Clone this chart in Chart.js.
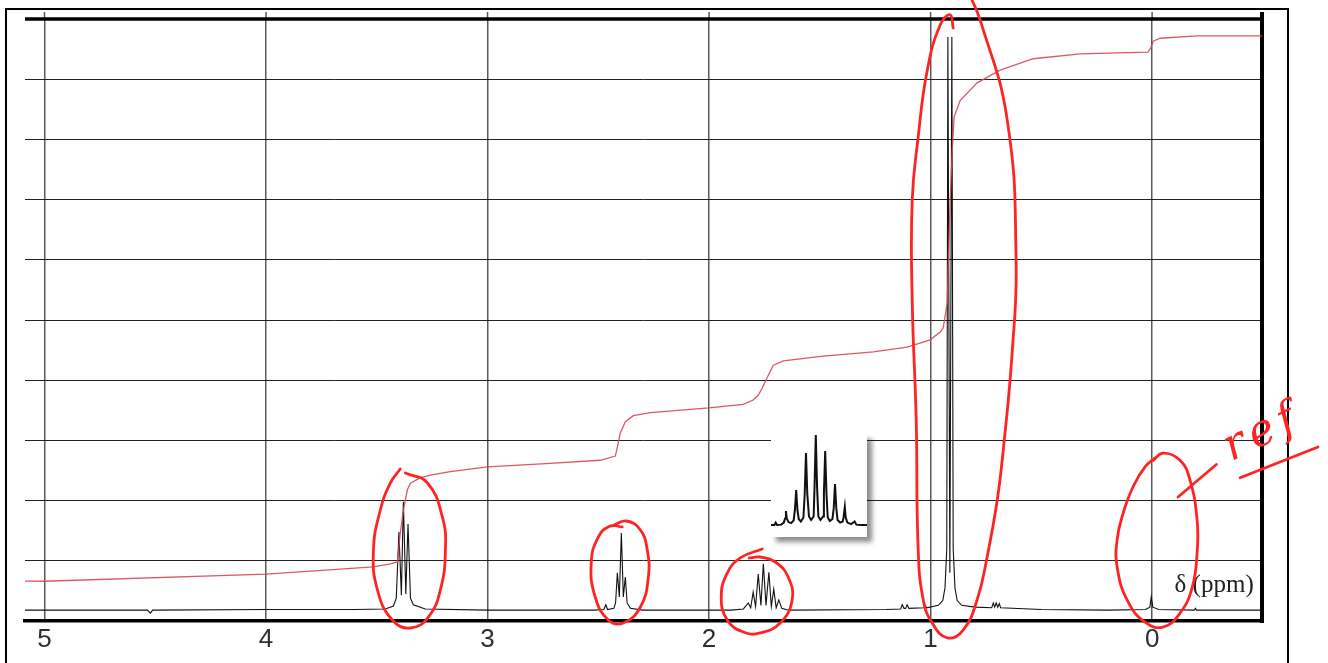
<!DOCTYPE html>
<html>
<head>
<meta charset="utf-8">
<title>1H NMR spectrum</title>
<script src="https://cdn.jsdelivr.net/npm/chart.js@4.4.1/dist/chart.umd.min.js"></script>
<style>
  html, body { margin: 0; padding: 0; background: #fff; overflow: hidden; }
  #frame { position: absolute; left: 5px; top: 8px; width: 1280px; height: 700px; border: 2px solid #000; }
  #main { position: absolute; left: 0; top: 0; }
  #inset { position: absolute; left: 771px; top: 434px; width: 96px; height: 103px; background: #fff;
           box-shadow: 5px 5px 5px rgba(0, 0, 0, 0.45); }
</style>
</head>
<body>
<div id="frame"></div>
<canvas id="main" width="1328" height="663"></canvas>
<div id="inset"><canvas id="insetCanvas" width="96" height="103"></canvas></div>
<script>
// axis range (ppm, reversed) and grid
const X_LEFT = 5.088, X_RIGHT = -0.496;
const xTicks = [5, 4, 3, 2, 1, 0];
const Y_MIN = 0, Y_MAX = 10;

// spectrum trace
const specPpm = [5.088, 4.60, 4.535, 4.522, 4.512, 4.00, 3.60, 3.461, 3.425, 3.412, 3.400, 3.389, 3.380, 3.369, 3.359, 3.348, 3.335, 3.281,
  3.00, 2.52, 2.475, 2.466, 2.458, 2.43, 2.422, 2.414, 2.405, 2.396, 2.387, 2.378, 2.370, 2.355, 2.30,
  1.90, 1.845, 1.823, 1.812, 1.801, 1.790, 1.778, 1.766, 1.755, 1.743, 1.730, 1.719, 1.708, 1.697, 1.685, 1.672, 1.64,
  1.20, 1.135, 1.128, 1.120, 1.113, 1.106, 1.098, 1.03, 1.024, 1.018, 0.965, 0.945, 0.935, 0.927, 0.922, 0.913, 0.904, 0.898, 0.890, 0.880, 0.860,
  0.80, 0.724, 0.717, 0.711, 0.704, 0.697, 0.690, 0.684, 0.50, 0.20, 0.03, 0.010, 0.004, -0.003, -0.03, -0.19, -0.196, -0.20, -0.496];
const specVal = [0.18, 0.18, 0.18, 0.13, 0.18, 0.19, 0.19, 0.20, 0.25, 0.38, 1.48, 0.43, 1.98, 0.45, 1.61, 0.38, 0.27, 0.20,
  0.18, 0.18, 0.19, 0.27, 0.19, 0.21, 0.30, 0.80, 0.40, 1.46, 0.40, 0.73, 0.30, 0.21, 0.18,
  0.18, 0.20, 0.30, 0.22, 0.48, 0.24, 0.78, 0.26, 0.95, 0.26, 0.81, 0.24, 0.53, 0.22, 0.35, 0.21, 0.18,
  0.19, 0.20, 0.27, 0.21, 0.21, 0.27, 0.21, 0.22, 0.26, 0.22, 0.26, 0.34, 0.55, 1.20, 9.70, 0.80, 9.70, 1.20, 0.55, 0.34, 0.26,
  0.23, 0.22, 0.30, 0.23, 0.30, 0.23, 0.29, 0.22, 0.19, 0.18, 0.19, 0.23, 0.40, 0.23, 0.19, 0.18, 0.21, 0.18, 0.18];

// integral curve
const intPpm = [5.088, 5.0, 4.0, 3.515, 3.439, 3.407, 3.394, 3.380, 3.362, 3.348, 3.303, 3.245, 3.168, 3.0, 2.717, 2.491, 2.423, 2.414,
  2.401, 2.378, 2.342, 2.265, 2.0, 1.846, 1.801, 1.778, 1.760, 1.737, 1.710, 1.665, 1.485, 1.259, 1.106, 1.002, 0.957, 0.943,
  0.925, 0.912, 0.903, 0.894, 0.866, 0.790, 0.686, 0.537, 0.325, 0.018, 0.005, -0.005, -0.036, -0.203, -0.496];
const intVal = [0.664, 0.66, 0.78, 0.90, 0.95, 0.98, 1.46, 1.84, 2.18, 2.29, 2.38, 2.43, 2.48, 2.56, 2.62, 2.67, 2.74, 2.89,
  3.12, 3.31, 3.41, 3.46, 3.54, 3.60, 3.67, 3.75, 3.87, 4.05, 4.25, 4.32, 4.40, 4.47, 4.55, 4.67, 4.80, 4.87,
  5.28, 6.94, 7.77, 8.37, 8.65, 8.94, 9.15, 9.34, 9.42, 9.45, 9.53, 9.63, 9.68, 9.72, 9.72];

// expanded multiplet in the inset (own scale, 0..1)
const insetPpm = [1.860, 1.852, 1.849, 1.846, 1.836, 1.830, 1.827, 1.825, 1.823, 1.819, 1.813, 1.807, 1.804, 1.801, 1.798, 1.795,
  1.790, 1.784, 1.781, 1.778, 1.775, 1.771, 1.766, 1.760, 1.758, 1.755, 1.752, 1.749, 1.744, 1.738, 1.736, 1.733, 1.730, 1.727,
  1.722, 1.716, 1.713, 1.710, 1.707, 1.704, 1.698, 1.692, 1.690, 1.687, 1.685, 1.681, 1.672, 1.664, 1.660, 1.650, 1.635];
const insetVal = [0.117, 0.117, 0.140, 0.117, 0.120, 0.140, 0.180, 0.252, 0.180, 0.145, 0.135, 0.160, 0.260, 0.456, 0.260, 0.175,
  0.150, 0.190, 0.420, 0.816, 0.420, 0.200, 0.165, 0.200, 0.480, 0.990, 0.480, 0.200, 0.165, 0.200, 0.420, 0.835, 0.420, 0.190,
  0.155, 0.175, 0.280, 0.515, 0.280, 0.165, 0.140, 0.150, 0.190, 0.291, 0.190, 0.140, 0.125, 0.150, 0.120, 0.117, 0.117];

// hand-drawn red marks (data units)
const loopA = { ppm: [3.371, 3.271, 3.204, 3.190, 3.213, 3.267, 3.348, 3.430, 3.497, 3.515, 3.484, 3.439, 3.394],
                val: [2.459, 2.292, 1.728, 1.179, 0.515, 0.066, -0.116, 0.017, 0.515, 1.179, 1.844, 2.292, 2.525] };
const loopB = { ppm: [2.437, 2.374, 2.310, 2.279, 2.274, 2.310, 2.387, 2.455, 2.514, 2.532, 2.500, 2.446, 2.392],
                val: [1.578, 1.661, 1.512, 1.179, 0.731, 0.233, -0.033, 0.017, 0.399, 0.963, 1.395, 1.578, 1.562] };
const loopC = { ppm: [1.760, 1.859, 1.918, 1.945, 1.918, 1.846, 1.769, 1.679, 1.625, 1.643, 1.701, 1.769, 1.819],
                val: [1.196, 1.047, 0.797, 0.399, 0.017, -0.183, -0.199, -0.033, 0.349, 0.731, 0.980, 1.063, 1.047] };
const loopD = { ppm: [0.898, 0.912, 0.957, 1.015, 1.056, 1.083, 1.083, 1.065, 1.056, 1.033, 0.993, 0.925, 0.853, 0.790, 0.745, 0.699, 0.672, 0.632, 0.614, 0.654, 0.776, 0.830],
                val: [9.85, 10.07, 9.90, 9.15, 8.04, 6.99, 5.33, 3.34, 1.18, 0.35, -0.03, -0.28, -0.15, 0.35, 1.06, 2.01, 2.84, 4.45, 6.00, 8.32, 9.98, 10.45] };
const loopE = { ppm: [-0.005, -0.050, -0.126, -0.171, -0.203, -0.203, -0.181, -0.126, -0.050, 0.032, 0.113, 0.158, 0.158, 0.131, 0.086, 0.032, -0.014],
                val: [2.67, 2.79, 2.67, 2.34, 1.68, 1.13, 0.56, 0.13, -0.10, -0.02, 0.35, 0.90, 1.35, 1.79, 2.23, 2.56, 2.71] };
const refArrow = { ppm: [-0.117, -0.290], val: [2.06, 2.60] };
const refLine = { ppm: [-0.397, -0.749], val: [2.38, 2.89] };

const pts = (xs, ys) => xs.map((x, i) => ({ x, y: ys[i] }));
const RED = '#ff2424';

const handMark = (m, smooth) => ({
  data: pts(m.ppm, m.val), borderColor: RED, borderWidth: 2.8, tension: smooth ? 0.45 : 0,
  cubicInterpolationMode: 'default', clip: false, borderCapStyle: 'round', borderJoinStyle: 'round'
});

// borders, grid stubs and labels
const decor = {
  id: 'decor',
  beforeDatasetsDraw(chart) {
    const { ctx, chartArea: a, scales: { x, y } } = chart;
    ctx.save();
    ctx.strokeStyle = '#5a5a5a';
    ctx.lineWidth = 1.5;
    xTicks.forEach(v => {
      const px = x.getPixelForValue(v);
      ctx.beginPath(); ctx.moveTo(px, a.top - 7); ctx.lineTo(px, a.top); ctx.stroke();
    });
    ctx.strokeStyle = '#000';
    ctx.lineWidth = 3.5;
    ctx.beginPath(); ctx.moveTo(a.left, a.top); ctx.lineTo(a.right + 2, a.top); ctx.stroke();
    ctx.lineWidth = 4;
    ctx.beginPath(); ctx.moveTo(a.right, a.top - 7); ctx.lineTo(a.right, a.bottom + 2); ctx.stroke();
    ctx.fillStyle = '#222';
    ctx.font = '25px "Liberation Serif", "Times New Roman", serif';
    ctx.textAlign = 'center';
    ctx.textBaseline = 'alphabetic';
    ctx.fillText('δ (ppm)', x.getPixelForValue(-0.28), y.getPixelForValue(0.48));
    ctx.restore();
  },
  afterDatasetsDraw(chart) {
    const { ctx, scales: { x, y } } = chart;
    ctx.save();
    ctx.translate(x.getPixelForValue(-0.50), y.getPixelForValue(3.12));
    ctx.rotate(-0.45);
    ctx.fillStyle = RED;
    ctx.font = 'italic 44px "DejaVu Serif", serif';
    ctx.letterSpacing = '6px';
    ctx.textAlign = 'center';
    ctx.textBaseline = 'middle';
    ctx.fillText('ref', 0, 0);
    ctx.restore();
  }
};

new Chart(document.getElementById('main'), {
  type: 'line',
  data: {
    datasets: [
      handMark(loopA, true), handMark(loopB, true), handMark(loopC, true), handMark(loopD, true), handMark(loopE, true),
      handMark(refArrow, false), handMark(refLine, false),
      { data: pts(intPpm, intVal), borderColor: 'rgba(214, 70, 88, 0.9)', borderWidth: 1.3, tension: 0 },
      { data: pts(specPpm, specVal), borderColor: '#111', borderWidth: 1.1, tension: 0 }
    ]
  },
  options: {
    responsive: false,
    devicePixelRatio: 1,
    animation: false,
    events: [],
    layout: { padding: { left: 25, top: 19, right: 66, bottom: 0 } },
    elements: { point: { radius: 0 }, line: { capBezierPoints: false } },
    plugins: { legend: { display: false }, tooltip: { enabled: false } },
    scales: {
      x: {
        type: 'linear', reverse: true, min: X_RIGHT, max: X_LEFT,
        afterBuildTicks: s => { s.ticks = xTicks.map(v => ({ value: v })); },
        afterFit: s => { s.height = 42; },
        grid: { color: '#5a5a5a', lineWidth: 1.5, drawTicks: false },
        border: { display: true, color: '#000', width: 3.5 },
        ticks: { padding: 3, autoSkip: false, maxRotation: 0, color: '#2b2f36',
                 font: { family: '"Liberation Sans", Arial, sans-serif', size: 26 }, callback: v => String(v) }
      },
      y: {
        min: Y_MIN, max: Y_MAX,
        afterFit: s => { s.width = 0; },
        ticks: { display: false, stepSize: 1 },
        grid: { color: '#222', lineWidth: 1, drawTicks: false },
        border: { display: false }
      }
    }
  },
  plugins: [decor]
});

new Chart(document.getElementById('insetCanvas'), {
  type: 'line',
  data: { datasets: [{ data: pts(insetPpm, insetVal), borderColor: '#111', borderWidth: 2, tension: 0 }] },
  options: {
    responsive: false,
    devicePixelRatio: 1,
    animation: false,
    events: [],
    layout: { padding: 0 },
    elements: { point: { radius: 0 } },
    plugins: { legend: { display: false }, tooltip: { enabled: false } },
    scales: {
      x: { type: 'linear', reverse: true, min: 1.635, max: 1.860, display: false },
      y: { min: 0, max: 1, display: false }
    }
  }
});
</script>
</body>
</html>
